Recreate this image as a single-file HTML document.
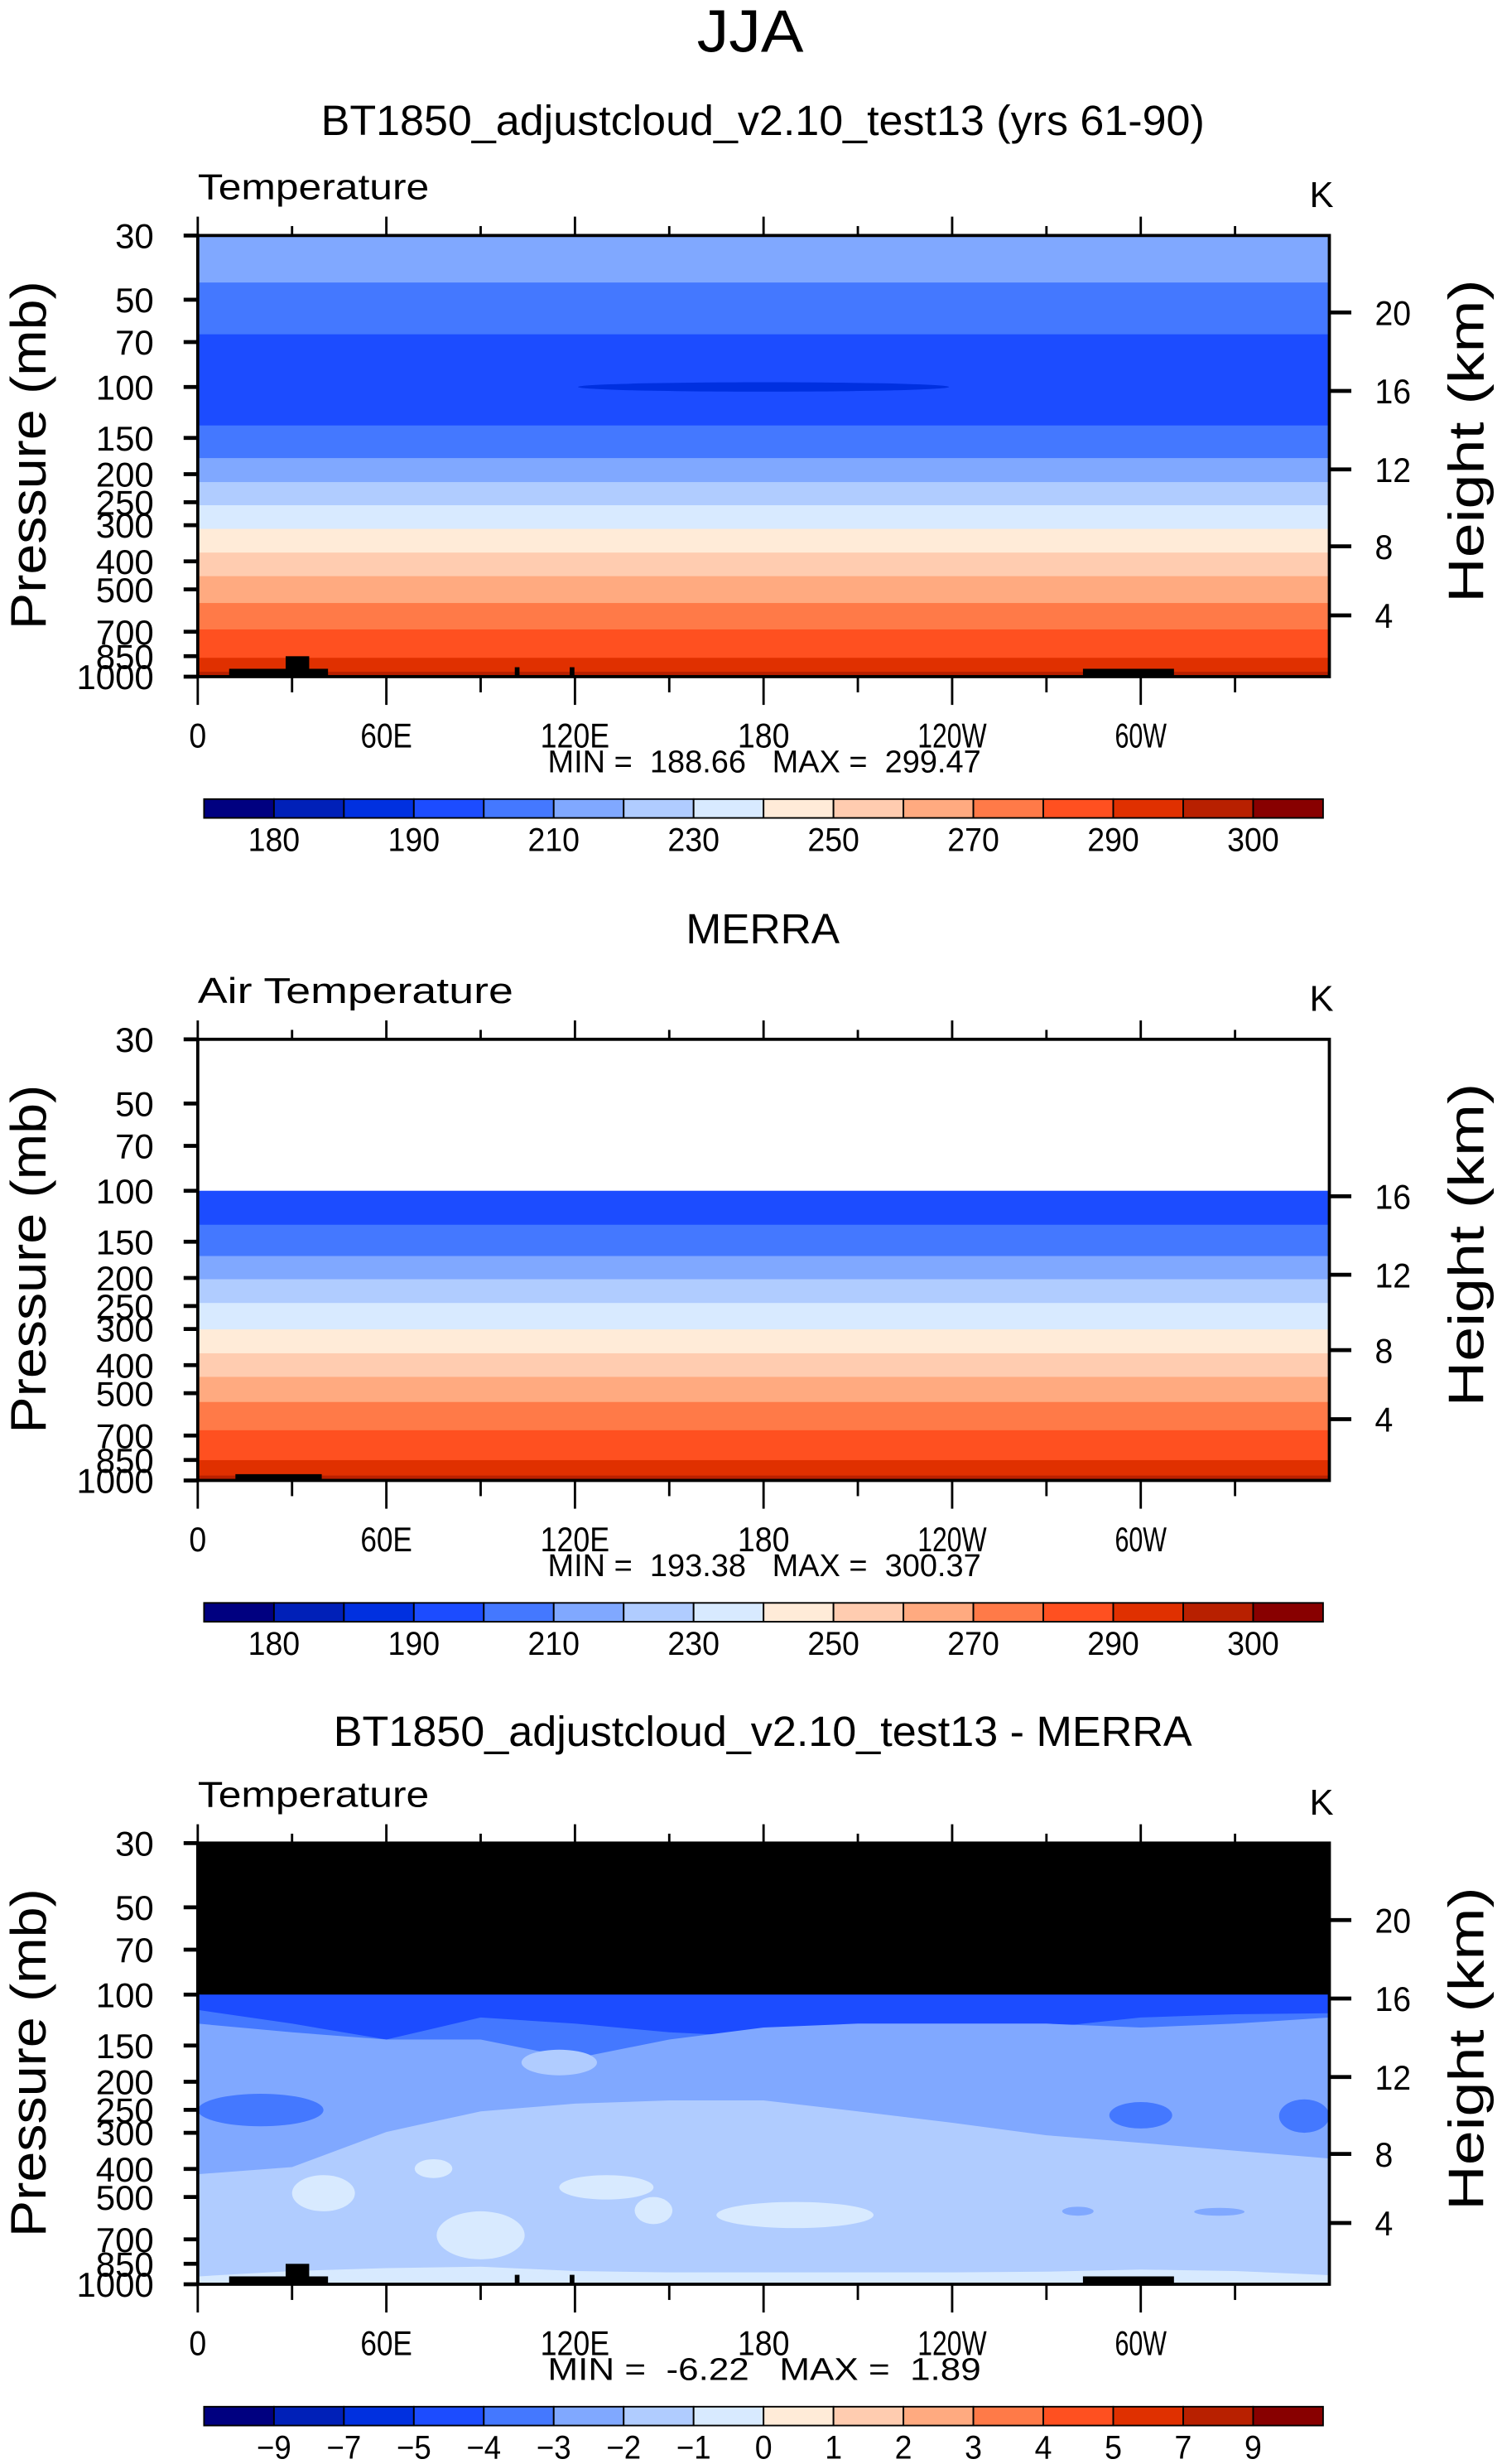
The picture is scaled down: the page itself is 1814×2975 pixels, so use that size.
<!DOCTYPE html>
<html><head><meta charset="utf-8"><style>
html,body{margin:0;padding:0;background:#fff;}
svg{display:block;}
text{font-family:"Liberation Sans",sans-serif;fill:#000;}
</style></head><body>
<svg id="chart" xmlns="http://www.w3.org/2000/svg" width="1814" height="2975" viewBox="0 0 957 1569.5">
<text x="478" y="33" font-size="38" text-anchor="middle" textLength="68" lengthAdjust="spacingAndGlyphs" font-weight="300">JJA</text>
</svg>
<script>
// ---- data ----
const lonTicks = [0,60,120,180,240,300];
const lonLabels = ["0","60E","120E","180","120W","60W"];
const presTicks = [30,50,70,100,150,200,250,300,400,500,700,850,1000];
const heightTicks = [20,16,12,8,4];
const heightTicks2 = [16,12,8,4];
const colors = ["#000080","#0020B8","#0030E0","#1C4CFF","#4478FF","#80A8FF","#B0CCFF","#D8EAFF","#FFEBD8","#FFCCB0","#FFAA80","#FF7A48","#FF5020","#E03000","#B82000","#880000"];
const absLabels = ["180","","190","","210","","230","","250","","270","","290","","300"];
const diffLabels = ["-9","-7","-5","-4","-3","-2","-1","0","1","2","3","4","5","7","9"];
// panel 1 (model) band boundaries (pressure, mb) and colour index below each boundary
const p1Bounds = [43.6,65.8,135.8,176,213,256,309,373,450,557,687,861,962];
const p1Colors = [5,4,3,4,5,6,7,8,9,10,11,12,13,14];
// panel 2 (MERRA)
const p2Bounds = [100,131,168,202,244,301,364,439,536,671,851,962];
const p2Colors = [-1,3,4,5,6,7,8,9,10,11,12,13,14];
// panel 3 (difference) boundaries along longitude 0..360 step 30
const diffLons = [0,30,60,90,120,150,180,210,240,270,300,330,360];
const b45 = [113,126,143,120,126,135,140,140,140,130,120,117,116];
const b56 = [126,135,143,143,166,143,130,126,126,126,130,126,120];
const b67 = [417,394,298,253,238,232,232,253,277,306,325,346,368];
const b78 = [940,900,880,870,900,910,910,910,910,905,890,900,930];
// blobs: lon, lon half-width (deg), pressure top/bottom (mb), colour index
const blobLon = [20,300,352,130,40,190,145,90,115,280,325,75];
const blobWd = [20,10,8,15,10,25,6,14,12,5,8,6];
const blobTop = [220,235,230,420,420,520,500,560,155,540,545,370];
const blobBot = [285,290,300,510,560,640,620,820,190,580,580,430];
const blobCol = [4,4,4,7,7,7,7,7,6,5,5,7];
const minmax = [["188.66","299.47"],["193.38","300.37"],["-6.22","1.89"]];

// ---- drawing ----
const NS="http://www.w3.org/2000/svg";
const svg=document.getElementById('chart');
function el(tag,attrs,parent){const e=document.createElementNS(NS,tag);for(const k in attrs)e.setAttribute(k,attrs[k]);(parent||svg).appendChild(e);return e;}
const X0=126,X1=847;
function xS(lon){return X0+(X1-X0)*lon/360;}
function yS(top,p){return top+281*(Math.log10(p)-Math.log10(30))/(3-Math.log10(30));}

function txt(s,x,y,size,anchor,name,extra){
  const t=el('text',Object.assign({x:x,y:y,'font-size':size,'text-anchor':anchor||'start'},extra||{}));
  
  
  t.textContent=s;return t;
}

function axes(top,idx,leftTitle,hticks,hpos){
  const g=el('g',{});
  
  
  el('rect',{x:X0,y:top,width:X1-X0,height:281,fill:'none',stroke:'#000','stroke-width':2},g);
  for(let lon=0;lon<=330;lon+=30){
    const major=lon%60===0;const x=xS(lon);
    el('line',{x1:x,x2:x,y1:top,y2:top-(major?12:6),stroke:'#000','stroke-width':1.5},g);
    el('line',{x1:x,x2:x,y1:top+281,y2:top+281+(major?18:10),stroke:'#000','stroke-width':1.5},g);
  }
  lonTicks.forEach((lon,i)=>{txt(lonLabels[i],xS(lon),top+326,22,'middle','lon-label',{textLength:lonLabels[i].length*11,lengthAdjust:'spacingAndGlyphs'});});
  presTicks.forEach(p=>{
    const y=yS(top,p);
    el('line',{x1:X0-9,x2:X0,y1:y,y2:y,stroke:'#000','stroke-width':2.5},g);
    txt(String(p),98,y+8,22,'end','pressure-tick-label',{textLength:String(p).length*12.3,lengthAdjust:'spacingAndGlyphs'});
  });
  hticks.forEach((h,i)=>{
    const y=hpos[i];
    el('line',{x1:X1,x2:X1+14,y1:y,y2:y,stroke:'#000','stroke-width':2.5},g);
    txt(String(h),876,y+8,22,'start','height-tick-label',{textLength:String(h).length*11.5,lengthAdjust:'spacingAndGlyphs'});
  });
  txt(leftTitle,126,top-23,23,'start','panel-'+idx+'-field-title',{textLength:leftTitle.length*13.4,lengthAdjust:'spacingAndGlyphs'});
  txt('K',842,top-18,23,'middle','units-label');
  txt('Pressure (mb)',0,0,32,'middle','y-axis-title',{transform:'translate(29,'+(top+140)+') rotate(-90)',textLength:222,lengthAdjust:'spacingAndGlyphs','font-weight':'300'});
  txt('Height (km)',0,0,32,'middle','y2-axis-title',{transform:'translate(945,'+(top+131)+') rotate(-90)',textLength:206,lengthAdjust:'spacingAndGlyphs','font-weight':'300'});
  const mm=minmax[idx-1];
  txt('MIN =\u00a0\u00a0'+mm[0]+'\u00a0\u00a0\u00a0MAX =\u00a0\u00a0'+mm[1],487,top+342,20,'middle','min-max-label',{textLength:276,lengthAdjust:'spacingAndGlyphs'});
}

function topo(top,g){
  const r=[[146,426,63,5],[182,418,15,13],[328,425,3,6],[363,425,3,6],[690,426,58,5]];
  r.forEach(a=>{const e=el('rect',{x:a[0],y:a[1]-150+top,width:a[2],height:a[3],fill:'#000'},g);});
}

function flatPanel(top,idx,bounds,cols){
  const g=el('g',{});
  
  
  const clip='clip'+idx;
  const cp=el('clipPath',{id:clip},g);el('rect',{x:X0,y:top,width:X1-X0,height:281},cp);
  const gg=el('g',{'clip-path':'url(#'+clip+')'},g);
  el('rect',{x:X0,y:top,width:X1-X0,height:281,fill:cols[0]<0?'#fff':colors[cols[0]]},gg);
  bounds.forEach((p,i)=>{
    const y=yS(top,p);const c=cols[i+1];
    const r=el('rect',{x:X0,y:y,width:X1-X0,height:top+281-y+1,fill:colors[c]},gg);
    
    
  });
  return gg;
}

function colorbar(y,labels,idx){
  const g=el('g',{});
  
  
  const x0=130,w=(843-130)/16;
  colors.forEach((c,i)=>{const r=el('rect',{x:x0+i*w,y:y,width:w,height:12,fill:c,stroke:'#000','stroke-width':1},g);});
  labels.forEach((l,i)=>{if(!l)return;txt(l.replace('-','\u2212'),x0+(i+1)*w,y+33,21,'middle','colorbar-label',{textLength:l.length*11,lengthAdjust:'spacingAndGlyphs'});});
}

// titles
txt('BT1850_adjustcloud_v2.10_test13 (yrs 61-90)',486,86,27,'middle','panel-1-title',{textLength:563,lengthAdjust:'spacingAndGlyphs'});
txt('MERRA',486,601,27,'middle','panel-2-title',{textLength:98,lengthAdjust:'spacingAndGlyphs'});
txt('BT1850_adjustcloud_v2.10_test13 - MERRA',486,1112,27,'middle','panel-3-title',{textLength:547,lengthAdjust:'spacingAndGlyphs'});

// panel 1
let T1=150;
const g1=flatPanel(T1,1,p1Bounds,p1Colors);
const ell=el('ellipse',{cx:xS(180),cy:yS(T1,100),rx:xS(59)-X0,ry:3,fill:colors[2]},g1);

topo(T1,g1);
axes(T1,1,'Temperature',heightTicks,[199,249,299,348,392]);
colorbar(509,absLabels,1);

// panel 2
let T2=662;
const g2=flatPanel(T2,2,p2Bounds,p2Colors);
const tp2=[[150,939,55,4]];
tp2.forEach(a=>el('rect',{x:a[0],y:a[1],width:a[2],height:a[3],fill:'#000'},g2));
axes(T2,2,'Air Temperature',heightTicks2,[762,812,860,904]);
colorbar(1021,absLabels,2);

// panel 3
let T3=1174;
const g3=el('g',{});


const cp3=el('clipPath',{id:'clip3'},g3);el('rect',{x:X0,y:T3,width:X1-X0,height:281},cp3);
const gg3=el('g',{'clip-path':'url(#clip3)'},g3);
el('rect',{x:X0,y:T3,width:X1-X0,height:281,fill:colors[3]},gg3);
[[b45,4],[b56,5],[b67,6],[b78,7]].forEach(([arr,c])=>{
  let d='M'+xS(diffLons[0])+','+yS(T3,arr[0]);
  for(let i=1;i<arr.length;i++)d+=' L'+xS(diffLons[i])+','+yS(T3,arr[i]);
  d+=' L'+X1+','+(T3+282)+' L'+X0+','+(T3+282)+' Z';
  const p=el('path',{d:d,fill:colors[c]},gg3);
  
  
});
blobLon.forEach((lon,i)=>{
  const yt=yS(T3,blobTop[i]),yb=yS(T3,blobBot[i]);
  const e=el('ellipse',{cx:xS(lon),cy:(yt+yb)/2,rx:xS(blobWd[i])-X0,ry:(yb-yt)/2,fill:colors[blobCol[i]]},gg3);
  
  
});
el('rect',{x:X0,y:T3,width:X1-X0,height:yS(T3,100)-T3,fill:'#000'},gg3);
topo(T3,gg3);
axes(T3,3,'Temperature',heightTicks,[1223,1273,1323,1372,1416]);
colorbar(1533,diffLabels,3);
</script>
</body></html>
